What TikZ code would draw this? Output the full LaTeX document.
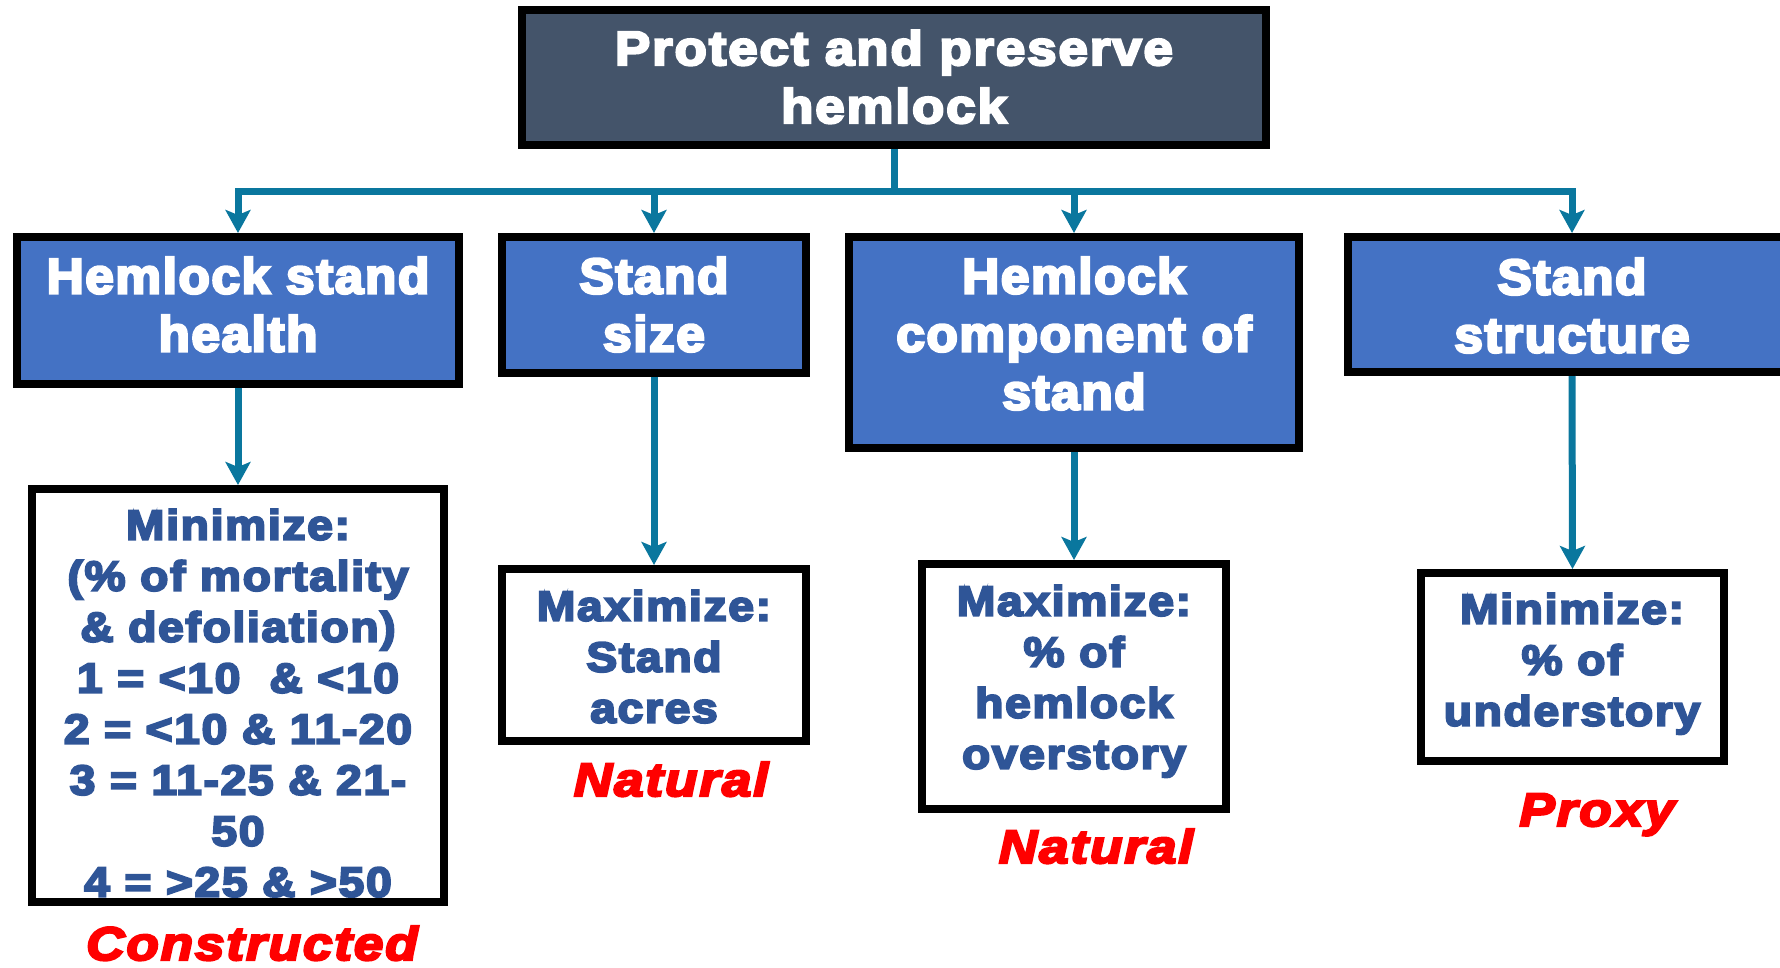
\documentclass[tikz,border=0pt]{standalone}
\usepackage{fontspec}
\usetikzlibrary{arrows.meta}

% Heavy sans faces built from Liberation Sans Bold
\newfontfamily\headfont{Liberation Sans}[FakeStretch=1.03,LetterSpace=3,FakeBold=5]
\newfontfamily\bodyfont{Liberation Sans}[FakeStretch=1.10,LetterSpace=4,FakeBold=5]
\newfontfamily\tagfont{Liberation Sans}[FakeStretch=1.13,LetterSpace=4,FakeBold=5]

\definecolor{goalgrey}{HTML}{44546A}
\definecolor{critblue}{HTML}{4472C4}
\definecolor{bodyblue}{HTML}{2F5597}
\definecolor{linkteal}{HTML}{0A779E}
\definecolor{tagred}{HTML}{FF0000}

\begin{document}
\begin{tikzpicture}[x=1pt,y=-1pt,
  frame/.style={draw=black,line width=8pt,inner sep=0pt,rectangle},
  goalbox/.style={frame,fill=goalgrey},
  critbox/.style={frame,fill=critblue},
  attrbox/.style={frame},
  goaltxt/.style={text=white,font=\bodyfont\bfseries\fontsize{48}{58}\selectfont,
    align=center,anchor=north,inner sep=0pt},
  headtxt/.style={text=white,font=\headfont\bfseries\fontsize{50}{58}\selectfont,
    align=center,anchor=north,inner sep=0pt},
  bodytxt/.style={text=bodyblue,font=\bodyfont\bfseries\fontsize{42}{51}\selectfont,
    align=center,anchor=north,inner sep=0pt},
  tagtxt/.style={text=tagred,font=\tagfont\bfseries\itshape\fontsize{47}{50}\selectfont,
    anchor=base,inner sep=0pt},
  link/.style={draw=linkteal,line width=7pt},
  arrow/.style={link,-{Stealth[length=23pt,width=25pt,inset=5pt]}}
]
\useasboundingbox (0,0) rectangle (1780,967);
\clip (0,0) rectangle (1780,967);

% measure texts (drawn under their frames)
\node[bodytxt] (w1t) at (238,509) {Minimize:\\(\% of mortality\\\& defoliation)\\1 = <10\ \ \& <10\\2 = <10 \& 11-20\\3 = 11-25 \& 21-\\50\\4 = >25 \& >50};
\node[bodytxt] (w2t) at (654,590) {Maximize:\\Stand\\acres};
\node[bodytxt] (w3t) at (1074,585) {Maximize:\\\% of\\hemlock\\overstory};
\node[bodytxt] (w4t) at (1572,593) {Minimize:\\\% of\\understory};

% frames
\node[goalbox,minimum width=744pt,minimum height=135pt] (goal) at (894,77.5) {};
\node[critbox,minimum width=442pt,minimum height=147pt] (c1) at (238,310.5) {};
\node[critbox,minimum width=304pt,minimum height=136pt] (c2) at (654,305) {};
\node[critbox,minimum width=450pt,minimum height=211pt] (c3) at (1074,342.5) {};
\node[critbox,minimum width=448pt,minimum height=135pt] (c4) at (1572,304.5) {};
\node[attrbox,minimum width=412pt,minimum height=413pt] (w1) at (238,695.5) {};
\node[attrbox,minimum width=304pt,minimum height=172pt] (w2) at (654,655) {};
\node[attrbox,minimum width=304pt,minimum height=245pt] (w3) at (1074,686.5) {};
\node[attrbox,minimum width=303pt,minimum height=188pt] (w4) at (1572.5,667) {};

% headings
\node[goaltxt] (goalt) at (894,30) {Protect and preserve\\hemlock};
\node[headtxt] (c1t) at (238,257) {Hemlock stand\\health};
\node[headtxt] (c2t) at (654,257) {Stand\\size};
\node[headtxt] (c3t) at (1074,257) {Hemlock\\component of\\stand};
\node[headtxt] (c4t) at (1572,258) {Stand\\structure};

% attribute types
\node[tagtxt] (tag1) at (252,960) {Constructed};
\node[tagtxt] (tag2) at (671,796) {Natural};
\node[tagtxt] (tag3) at (1096,863) {Natural};
\node[tagtxt] (tag4) at (1597,826) {Proxy};

% connectors
\coordinate (bus) at (894,191);
\coordinate (busL) at (238,191);
\coordinate (busR) at (1572,191);
\draw[link] (goal.south) -- (bus);
\draw[link,line cap=rect] (busL) -- (busR);
\draw[arrow] (c1.north |- bus) -- (c1.north);
\draw[arrow] (c2.north |- bus) -- (c2.north);
\draw[arrow] (c3.north |- bus) -- (c3.north);
\draw[arrow] (c4.north |- bus) -- (c4.north);
\draw[arrow] (c1.south) -- (w1.north);
\draw[arrow] (c2.south) -- (w2.north);
\draw[arrow] (c3.south) -- (w3.north);
\draw[arrow] (c4.south) -- (w4.north);
\end{tikzpicture}
\end{document}
